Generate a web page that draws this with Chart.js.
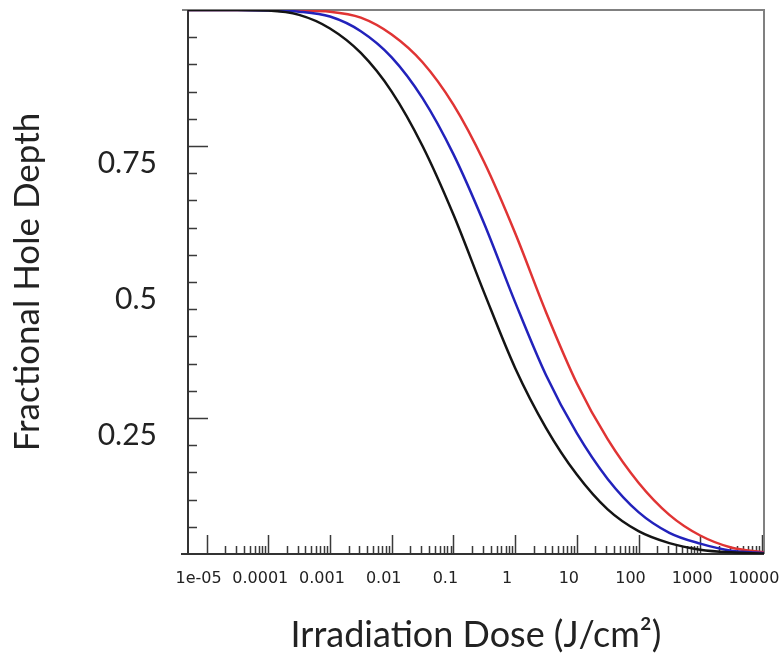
<!DOCTYPE html>
<html>
<head>
<meta charset="utf-8">
<script src="https://cdn.jsdelivr.net/npm/chart.js@4.4.1/dist/chart.umd.min.js"></script>
<style>
  html, body { margin: 0; padding: 0; background: #fff; }
</style>
</head>
<body>
<canvas id="holeChart" width="784" height="659"></canvas>
<script>
// irradiation dose (J/cm2), half-decade steps
const dose = [5e-6, 1e-5, 3.16e-5, 1e-4, 3.16e-4, 1e-3, 3.16e-3, 0.01, 0.0316, 0.1,
              0.316, 1, 3.16, 10, 31.6, 100, 316, 1000, 3162, 10800];

// fractional hole depth
const depthBlack = [1.000, 1.000, 1.000, 0.999, 0.991, 0.966, 0.921, 0.850, 0.750, 0.624,
                    0.480, 0.342, 0.232, 0.146, 0.082, 0.042, 0.020, 0.008, 0.003, 0.001];
const depthBlue  = [1.000, 1.000, 1.000, 0.999, 0.997, 0.988, 0.961, 0.913, 0.838, 0.735,
                    0.607, 0.463, 0.329, 0.222, 0.138, 0.077, 0.039, 0.019, 0.006, 0.002];
const depthRed   = [1.000, 1.000, 1.000, 1.000, 0.999, 0.997, 0.986, 0.955, 0.904, 0.826,
                    0.720, 0.590, 0.445, 0.314, 0.211, 0.131, 0.072, 0.034, 0.012, 0.003];

const xTickValues = [1e-5, 1e-4, 1e-3, 0.01, 0.1, 1, 10, 100, 1000, 10000];
const xTickLabels = ["1e-05", "0.0001", "0.001", "0.01", "0.1", "1", "10", "100", "1000", "10000"];
const yTickValues = [0.25, 0.5, 0.75];
const yTickLabels = ["0.25", "0.5", "0.75"];

function pts(arr) {
  return dose.map((d, i) => ({x: d, y: arr[i]}));
}

// inward tick marks + frame, drawn with the scales' own pixel mapping
const axisFrame = {
  id: 'axisFrame',
  beforeDatasetsDraw(chart) {
    const {ctx, chartArea: a, scales: {x, y}} = chart;
    ctx.save();
    ctx.strokeStyle = '#3a3a3a';
    ctx.lineWidth = 1.5;
    ctx.beginPath();
    for (let d = -5; d <= 4; d++) {
      for (let m = 1; m < 10; m++) {
        const v = m * Math.pow(10, d);
        if (v < x.min || v > x.max) continue;
        const px = Math.round(x.getPixelForValue(v)) + 0.5;
        const len = m === 1 ? 19 : 8;
        ctx.moveTo(px, a.bottom);
        ctx.lineTo(px, a.bottom - len);
      }
    }
    for (let k = 1; k < 20; k++) {
      const py = Math.round(y.getPixelForValue(k / 20)) + 0.5;
      const len = (k === 5 || k === 15) ? 20 : 9;
      ctx.moveTo(a.left, py);
      ctx.lineTo(a.left + len, py);
    }
    ctx.stroke();

    ctx.lineWidth = 2;
    ctx.strokeStyle = '#808080';
    ctx.beginPath();
    ctx.moveTo(a.left - 6, a.top);
    ctx.lineTo(a.right, a.top);
    ctx.lineTo(a.right, a.bottom);
    ctx.stroke();

    ctx.strokeStyle = '#333';
    ctx.beginPath();
    ctx.moveTo(a.left, a.top);
    ctx.lineTo(a.left, a.bottom);
    ctx.moveTo(a.left - 7, a.bottom);
    ctx.lineTo(a.right, a.bottom);
    ctx.stroke();
    ctx.restore();
  }
};

new Chart(document.getElementById("holeChart"), {
  type: 'line',
  data: {
    datasets: [{
        data: pts(depthBlack),
        borderColor: "#141414",
        borderWidth: 2.5,
        pointRadius: 0,
        cubicInterpolationMode: 'monotone',
        fill: false
      }, {
        data: pts(depthBlue),
        borderColor: "#2222bb",
        borderWidth: 2.5,
        pointRadius: 0,
        cubicInterpolationMode: 'monotone',
        fill: false
      }, {
        data: pts(depthRed),
        borderColor: "#e03434",
        borderWidth: 2.5,
        pointRadius: 0,
        cubicInterpolationMode: 'monotone',
        fill: false
      }
    ]
  },
  plugins: [axisFrame],
  options: {
    responsive: false,
    animation: false,
    layout: { padding: { top: 10, right: 20, bottom: 0, left: 0 } },
    plugins: {
      legend: { display: false },
      tooltip: { enabled: false }
    },
    scales: {
      x: {
        type: 'logarithmic',
        min: 5e-6,
        max: 10800,
        bounds: 'data',
        grid: { display: false, drawTicks: false },
        border: { display: false },
        afterFit: s => { s.height = 105; s.paddingLeft = 0; s.paddingRight = 0; },
        afterBuildTicks: s => { s.ticks = xTickValues.map(v => ({value: v})); },
        ticks: {
          autoSkip: false,
          maxRotation: 0,
          padding: 15,
          labelOffset: -8,
          color: '#222',
          font: { family: 'DejaVu Sans', size: 16 },
          callback: (v, i) => xTickLabels[i]
        },
        title: {
          display: true,
          text: 'Irradiation Dose (J/cm\u00B2)',
          color: '#222',
          font: { family: 'Lato', size: 36 },
          padding: { top: 0, bottom: 2 }
        }
      },
      y: {
        min: 0,
        max: 1,
        grid: { display: false, drawTicks: false },
        border: { display: false },
        afterFit: s => { s.width = 188; s.paddingTop = 0; s.paddingBottom = 0; },
        afterBuildTicks: s => { s.ticks = yTickValues.map(v => ({value: v})); },
        ticks: {
          padding: 31,
          labelOffset: 17,
          color: '#222',
          font: { family: 'Lato', size: 30 },
          callback: (v, i) => yTickLabels[i]
        },
        title: {
          display: true,
          text: 'Fractional Hole Depth',
          color: '#222',
          font: { family: 'Lato', size: 35 },
          padding: { top: 7, bottom: 0 }
        }
      }
    }
  }
});
</script>
</body>
</html>
